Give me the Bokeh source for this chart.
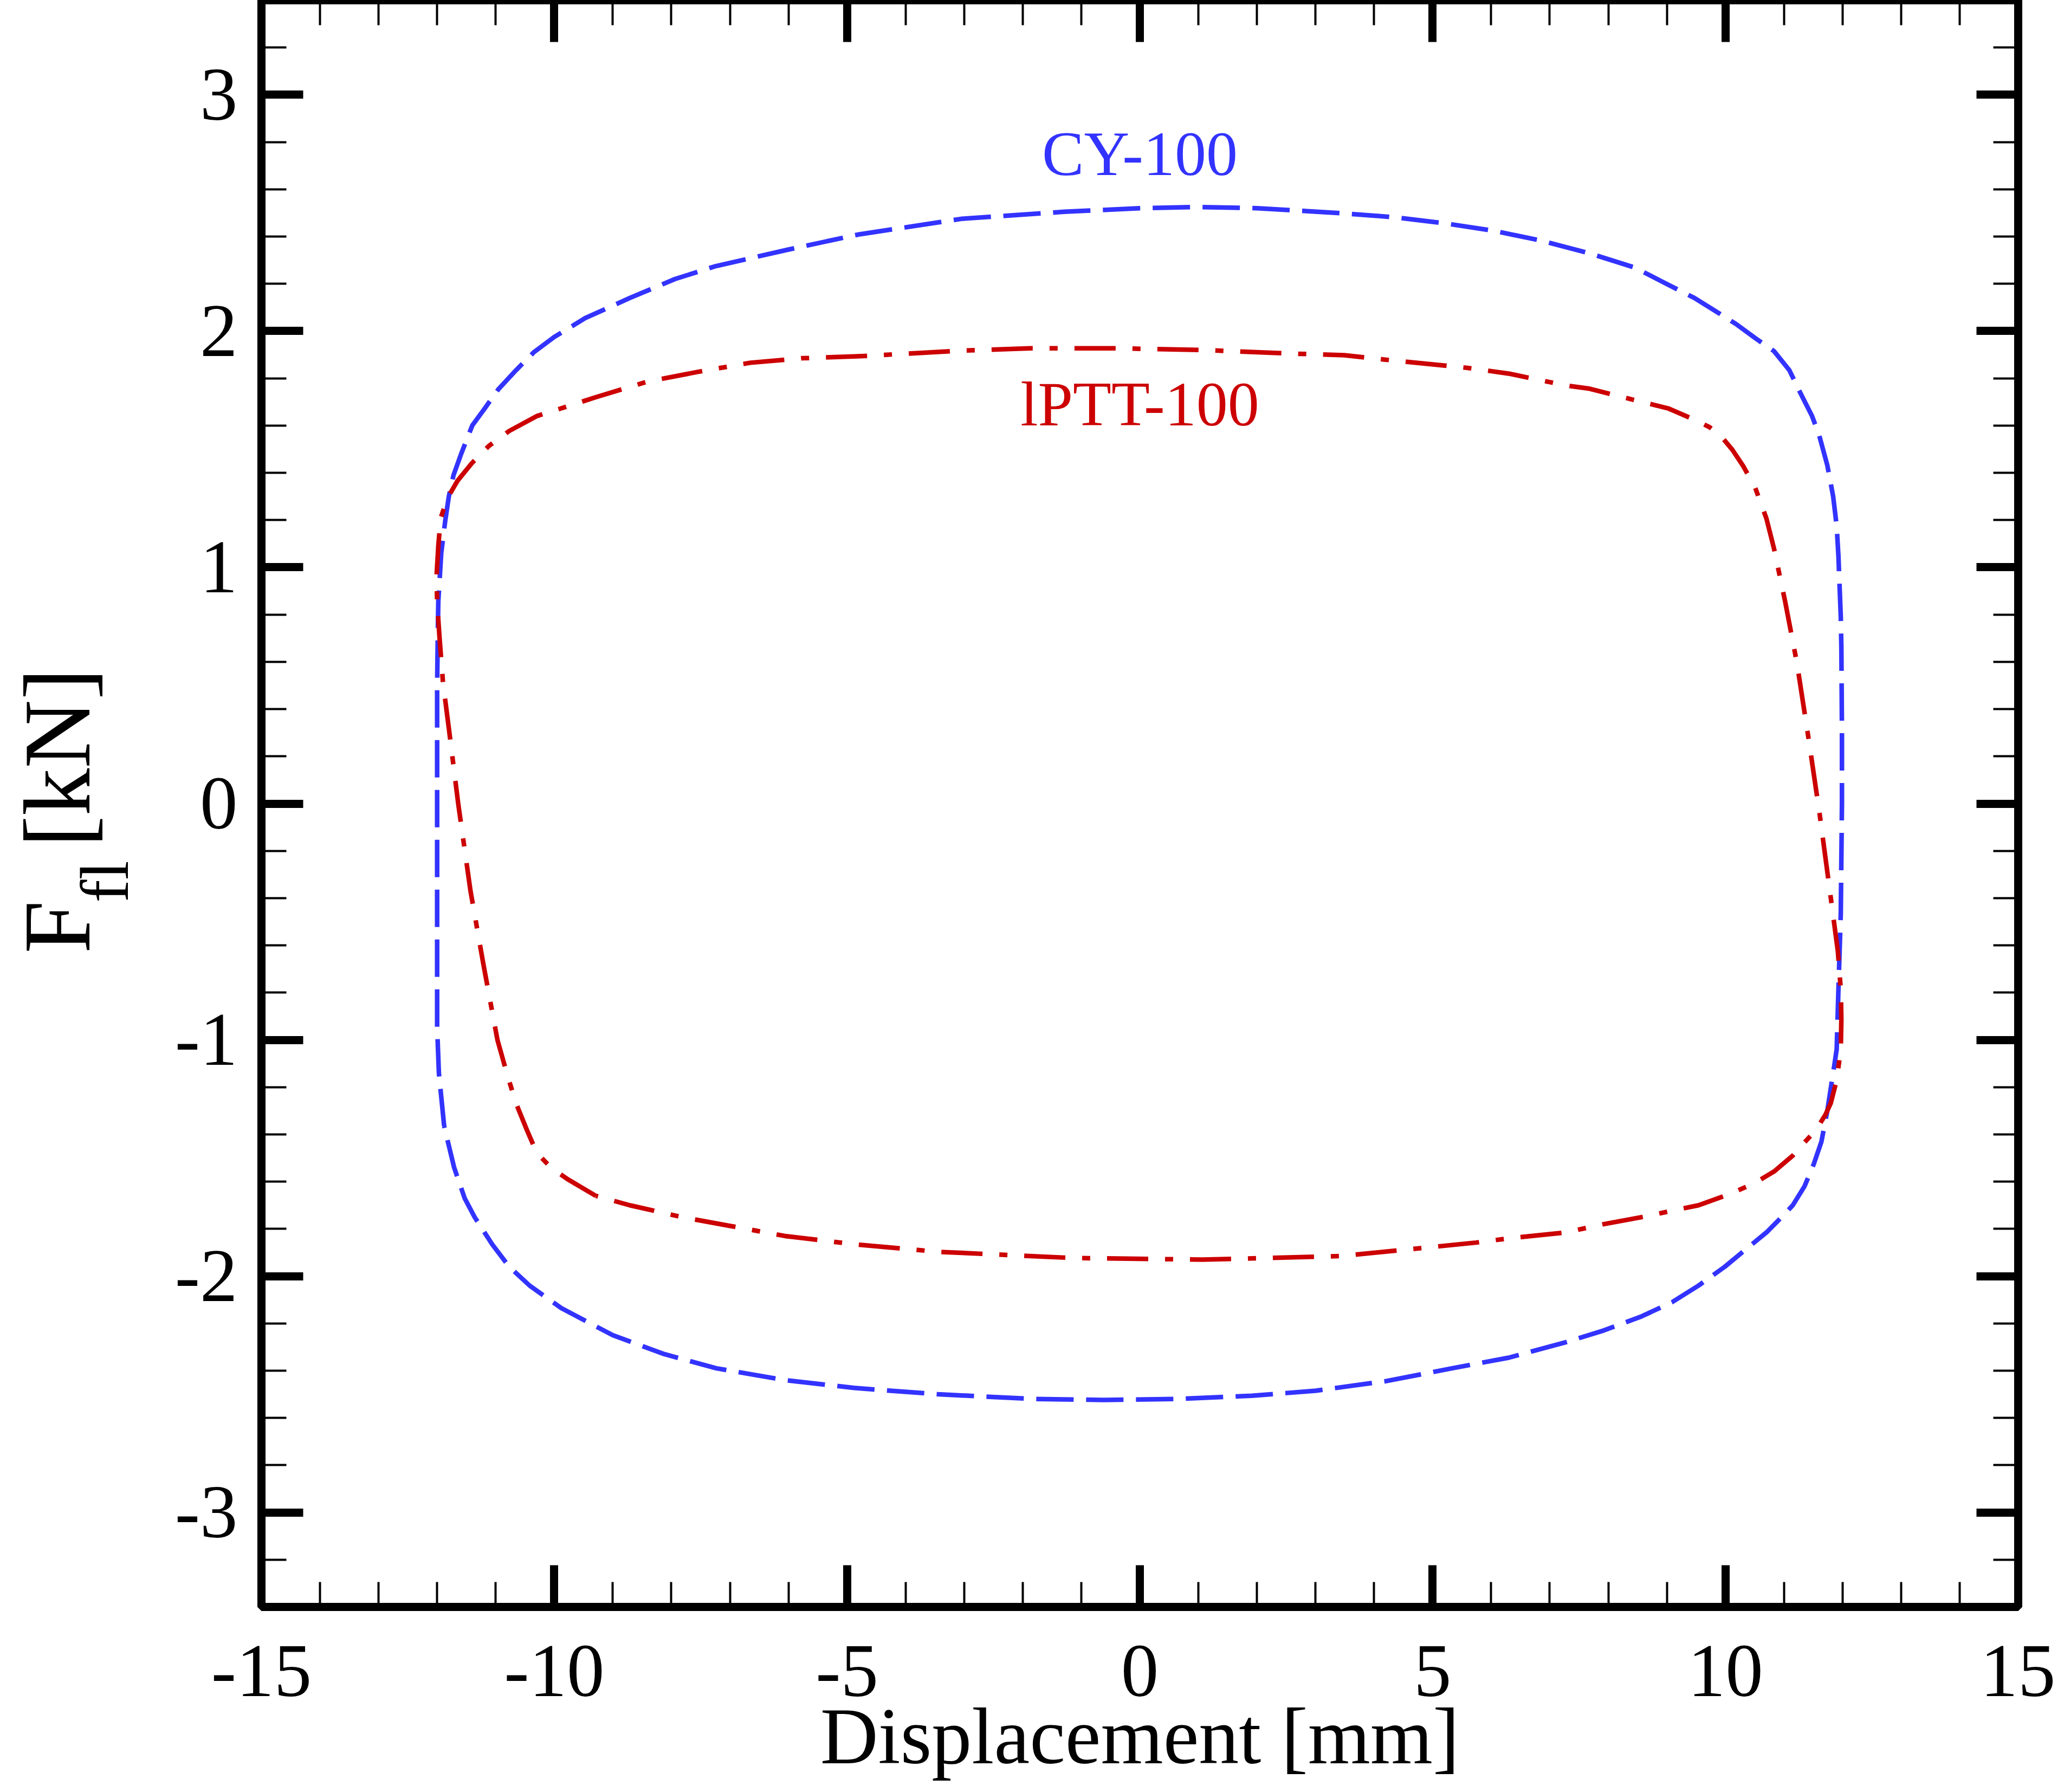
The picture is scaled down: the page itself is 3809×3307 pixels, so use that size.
import math
from bokeh.plotting import figure
from bokeh.layouts import row, column
from bokeh.models import Range1d, LinearAxis, SingleIntervalTicker, Label, CustomJSTickFormatter
from bokeh.core.properties import value
from bokeh.embed import file_html
from bokeh.resources import INLINE

# ---------------- data ----------------
cy_x = [-11.88, -11.97, -12.00, -12.00, -12.00, -12.00, -11.99, -11.98, -11.93, -11.86,
        -11.80, -11.72, -11.59, -11.40, -11.18, -10.95, -10.65, -10.35, -10.00, -9.47,
        -8.71, -7.94, -7.24, -6.00, -4.82, -3.05, -1.29, 0.00, 1.00, 2.00,
        2.83, 3.49, 4.33, 5.18, 6.03, 6.85, 7.68, 8.46, 8.96, 9.47,
        9.86, 10.18, 10.51, 10.83, 11.09, 11.28, 11.48, 11.60, 11.74, 11.84,
        11.90, 11.93, 11.95, 11.97, 11.98, 11.99, 11.99, 11.97, 11.93, 11.90,
        11.84, 11.74, 11.64, 11.51, 11.35, 11.15, 10.96, 10.70, 10.38, 9.99,
        9.54, 9.09, 8.57, 7.92, 7.27, 6.30, 5.33, 4.21, 3.00, 1.91,
        0.60, -0.60, -1.80, -3.44, -4.88, -6.06, -7.23, -8.12, -9.00, -9.88,
        -10.42, -10.77, -11.06, -11.36, -11.53, -11.71, -11.88]
cy_y = [-1.365, -1.140, -0.946, -0.500, 0.000, 0.500, 0.700, 0.855, 1.060, 1.200,
        1.300, 1.390, 1.480, 1.600, 1.675, 1.755, 1.835, 1.910, 1.975, 2.055,
        2.140, 2.220, 2.275, 2.345, 2.408, 2.475, 2.505, 2.520, 2.525, 2.520,
        2.508, 2.498, 2.482, 2.457, 2.425, 2.383, 2.329, 2.268, 2.204, 2.140,
        2.080, 2.030, 1.970, 1.915, 1.835, 1.738, 1.640, 1.560, 1.432, 1.300,
        1.175, 1.047, 0.918, 0.790, 0.661, 0.300, 0.000, -0.464, -0.786, -1.040,
        -1.140, -1.300, -1.430, -1.525, -1.620, -1.700, -1.750, -1.815, -1.880, -1.960,
        -2.040, -2.110, -2.170, -2.230, -2.280, -2.345, -2.390, -2.444, -2.485, -2.506,
        -2.520, -2.524, -2.520, -2.500, -2.473, -2.440, -2.390, -2.330, -2.250, -2.135,
        -2.040, -1.960, -1.865, -1.750, -1.670, -1.540, -1.365]

lptt_x = [-9.29, -9.77, -10.06, -10.30, -10.47, -10.65, -10.80, -10.97, -11.21, -11.43,
          -11.64, -11.80, -11.90, -11.96, -12.00, -12.01, -11.98, -11.94, -11.83, -11.65,
          -11.41, -11.12, -10.77, -10.30, -9.88, -9.29, -8.41, -7.53, -6.65, -5.77,
          -4.82, -3.05, -1.87, -0.40, 1.07, 2.54, 3.49, 4.19, 5.60, 6.30,
          7.27, 7.68, 8.25, 9.02, 9.47, 9.73, 9.93, 10.12, 10.31, 10.51,
          10.70, 10.83, 11.02, 11.22, 11.42, 11.61, 11.80, 11.92, 11.97, 11.98,
          11.97, 11.90, 11.80, 11.71, 11.55, 11.35, 11.15, 10.83, 10.51, 10.06,
          9.54, 8.57, 7.92, 7.27, 6.30, 5.74, 3.44, 1.07, -1.15, -3.44,
          -4.88, -6.06, -6.94, -7.82, -8.71, -9.29]
lptt_y = [-1.660, -1.590, -1.540, -1.477, -1.380, -1.270, -1.150, -1.000, -0.680, -0.370,
          0.000, 0.319, 0.512, 0.706, 0.850, 0.962, 1.090, 1.207, 1.290, 1.367,
          1.440, 1.513, 1.577, 1.640, 1.673, 1.720, 1.786, 1.828, 1.866, 1.885,
          1.893, 1.917, 1.927, 1.927, 1.920, 1.905, 1.898, 1.879, 1.844, 1.820,
          1.770, 1.756, 1.720, 1.673, 1.625, 1.593, 1.554, 1.497, 1.426, 1.336,
          1.207, 1.079, 0.855, 0.597, 0.275, -0.046, -0.400, -0.625, -0.786, -0.914,
          -1.040, -1.170, -1.267, -1.316, -1.380, -1.434, -1.490, -1.557, -1.605, -1.654,
          -1.700, -1.750, -1.780, -1.815, -1.840, -1.858, -1.915, -1.930, -1.923, -1.897,
          -1.865, -1.830, -1.790, -1.750, -1.700, -1.660]

series_names = ["CY-100", "lPTT-100"]
series_colors = ["#3333ff", "#cc0000"]
series_dashes = ["69 23", "76 31 15 31"]
label_x = [0.0, 0.0]
label_y = [2.750, 1.690]

x_ticks = [-15, -10, -5, 0, 5, 10, 15]
x_tick_labels = ["-15", "-10", "-5", "0", "5", "10", "15"]
y_ticks = [-3, -2, -1, 0, 1, 2, 3]
y_tick_labels = ["-3", "-2", "-1", "0", "1", "2", "3"]
x_title = "Displacement [mm]"
y_title_parts = ["F", "fl", "[kN]"]

FONT = "Liberation Serif"
TOTAL_W = 3793
H = 3291                 # total drawable height
TW = 294                 # strip carrying the rotated y title
BL = 188                 # border left of the frame (inside the main column)
FW, FH = 3242, 2965      # frame size in px
BR = TOTAL_W - TW - BL - FW
BB = 8                   # border under the frame
SH = H - FH - BB         # height of the strip that carries tick labels + x title
ST = 156                 # top border of that strip (holds the tick labels)

xt = SingleIntervalTicker(interval=5, num_minor_ticks=5)
yt = SingleIntervalTicker(interval=1, num_minor_ticks=5)

# ---------------- main plot ----------------
p = figure(frame_width=FW, frame_height=FH, x_range=Range1d(-15, 15), y_range=Range1d(-3.4, 3.4),
           output_backend="svg", toolbar_location=None,
           min_border_left=BL, min_border_right=BR, min_border_top=0, min_border_bottom=BB)
p.xgrid.visible = False
p.ygrid.visible = False
p.outline_line_color = "black"
p.outline_line_width = 15
p.background_fill_color = "white"
p.border_fill_color = "white"

p.add_layout(LinearAxis(), "above")
p.add_layout(LinearAxis(), "right")


def style(ax, ticker, show):
    ax.ticker = ticker
    ax.axis_line_color = None
    ax.major_tick_in = 77
    ax.major_tick_out = 0
    ax.minor_tick_in = 46
    ax.minor_tick_out = 0
    ax.major_tick_line_width = 15
    ax.minor_tick_line_width = 4
    ax.major_tick_line_color = "black"
    ax.minor_tick_line_color = "black"
    if show:
        ax.major_label_text_font = FONT
        ax.major_label_text_font_size = "139px"
        ax.major_label_text_color = "black"
    else:
        ax.formatter = CustomJSTickFormatter(code="return ''")
        ax.major_label_text_font_size = "0px"
        ax.major_label_standoff = 0


for ax in p.left:
    style(ax, yt, True)
    ax.major_label_overrides = dict(zip(y_ticks, y_tick_labels))
    ax.major_label_standoff = 44
for ax in p.below + p.above:
    style(ax, xt, False)
for ax in p.right:
    style(ax, yt, False)

# curves
p.line(cy_x, cy_y, line_color=series_colors[0], line_width=8.5, line_dash=series_dashes[0],
       line_join="round")
p.line(lptt_x, lptt_y, line_color=series_colors[1], line_width=8.5, line_dash=series_dashes[1],
       line_join="round")

# series labels
for name, col, lx, ly in zip(series_names, series_colors, label_x, label_y):
    p.add_layout(Label(x=lx, y=ly, text=name, text_color=col, text_font=FONT,
                       text_font_size="116px", text_align="center", text_baseline="alphabetic"))

# ---------------- strip under the plot: x tick labels + x title ----------------
s = figure(frame_width=FW, frame_height=SH - ST, x_range=p.x_range, y_range=Range1d(0, SH - ST),
           output_backend="svg", toolbar_location=None, x_axis_location="above", y_axis_type=None,
           min_border_left=BL, min_border_right=BR, min_border_top=ST, min_border_bottom=0)
s.xgrid.visible = False
s.ygrid.visible = False
s.outline_line_color = None
s.background_fill_color = "white"
s.border_fill_color = "white"
for ax in s.above:
    ax.ticker = xt
    ax.axis_line_color = None
    ax.major_tick_in = 0
    ax.major_tick_out = 0
    ax.minor_tick_in = 0
    ax.minor_tick_out = 0
    ax.major_tick_line_color = None
    ax.minor_tick_line_color = None
    ax.major_label_overrides = dict(zip(x_ticks, x_tick_labels))
    ax.major_label_text_font = FONT
    ax.major_label_text_font_size = "139px"
    ax.major_label_text_color = "black"
    ax.major_label_standoff = 0
s.add_layout(Label(x=0, y=88, text=x_title, text_font=FONT, text_font_size="148px",
                   text_align="center", text_baseline="alphabetic", text_color="black"))

# ---------------- strip left of the plot: rotated y title F_fl [kN] ----------------
t = figure(width=TW, height=H, x_range=Range1d(0, TW), y_range=Range1d(0, H),
           output_backend="svg", toolbar_location=None, x_axis_type=None, y_axis_type=None,
           min_border_left=0, min_border_right=0, min_border_top=0, min_border_bottom=0)
t.outline_line_color = None
t.background_fill_color = "white"
t.border_fill_color = "white"
t.text(x=[105], y=[1532], text=[y_title_parts[0]],
       angle=math.pi / 2, text_font=value(FONT), text_font_size=value("175px"),
       text_align="left", text_baseline="alphabetic", text_color="black")
t.text(x=[193], y=[1626], text=[y_title_parts[1]],
       angle=math.pi / 2, text_font=value(FONT), text_font_size=value("126px"),
       text_align="left", text_baseline="alphabetic", text_color="black")
t.text(x=[105], y=[1728], text=[y_title_parts[2]],
       angle=math.pi / 2, text_font=value(FONT), text_font_size=value("175px"),
       text_align="left", text_baseline="alphabetic", text_color="black")

layout = row(t, column(p, s, spacing=0), spacing=0)
open("out.html", "w").write(file_html(layout, INLINE))
